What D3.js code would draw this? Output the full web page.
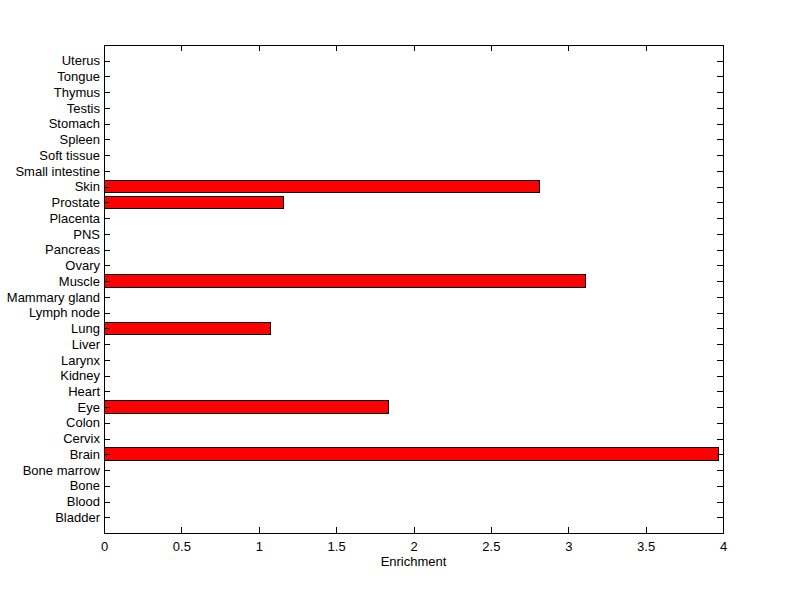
<!DOCTYPE html>
<html>
<head>
<meta charset="utf-8">
<script src="https://cdn.jsdelivr.net/npm/d3@7"></script>
<style>
	body { margin: 0; background: #fff; }
	text { font-family: "Liberation Sans", Arial, sans-serif; font-size: 13px; fill: #000; }
</style>
</head>
<body>
<div id="theChart"></div>
<script>
// tissues, bottom to top
const tissues = ["Bladder", "Blood", "Bone", "Bone marrow", "Brain", "Cervix", "Colon", "Eye", "Heart", "Kidney",
	"Larynx", "Liver", "Lung", "Lymph node", "Mammary gland", "Muscle", "Ovary", "Pancreas", "PNS", "Placenta",
	"Prostate", "Skin", "Small intestine", "Soft tissue", "Spleen", "Stomach", "Testis", "Thymus", "Tongue", "Uterus"]
const enrichment = [0, 0, 0, 0, 3.97, 0, 0, 1.84, 0, 0,
	0, 0, 1.077, 0, 0, 3.11, 0, 0, 0, 0,
	1.16, 2.817, 0, 0, 0, 0, 0, 0, 0, 0]
const xTicks = [0, 0.5, 1, 1.5, 2, 2.5, 3, 3.5, 4]

const w = 800
const h = 599
const mLeft = 104, mRight = 723, mTop = 45, mBottom = 533

const svg = d3.select("#theChart").append("svg")
	.attr("width", w)
	.attr("height", h)

const x = d3.scaleLinear().domain([0, 4]).range([mLeft, mRight])
const y = d3.scaleLinear().domain([0, tissues.length + 1]).range([mBottom, mTop])
const barH = y(0) - y(0.8)

// bars
svg.append("g").selectAll("rect")
	.data(tissues.map((t, i) => ({ t: t, v: enrichment[i], k: i + 1 })).filter(d => d.v > 0))
	.enter()
	.append("rect")
	.attr("x", x(0))
	.attr("y", d => y(d.k) - barH / 2)
	.attr("width", d => x(d.v) - x(0))
	.attr("height", barH)
	.attr("fill", "#ff0000")
	.attr("stroke", "#000")
	.attr("stroke-width", 1)
	.attr("shape-rendering", "crispEdges")

// axes, matlab style: ticks inside on all four sides
const tickLen = 6
const xAxisB = d3.axisBottom(x).tickValues(xTicks).tickSize(-tickLen).tickPadding(9).tickFormat(d3.format("~g"))
const xAxisT = d3.axisTop(x).tickValues(xTicks).tickSize(-tickLen).tickFormat("")
const yAxisL = d3.axisLeft(y).tickValues(d3.range(1, tissues.length + 1)).tickSize(-tickLen).tickPadding(4)
	.tickFormat(d => tissues[d - 1])
const yAxisR = d3.axisRight(y).tickValues(d3.range(1, tissues.length + 1)).tickSize(-tickLen).tickFormat("")

function style(g) {
	g.selectAll("line").attr("stroke", "#000").attr("stroke-width", 1).attr("shape-rendering", "crispEdges")
	g.selectAll("text").style("font-family", "'Liberation Sans', Arial, sans-serif").style("font-size", "13px").attr("fill", "#000")
	g.select(".domain").remove()
}

svg.append("g").attr("transform", `translate(0,${mBottom})`).call(xAxisB).call(style)
svg.append("g").attr("transform", `translate(0,${mTop})`).call(xAxisT).call(style)
svg.append("g").attr("transform", `translate(${mLeft},0)`).call(yAxisL).call(style)
svg.append("g").attr("transform", `translate(${mRight},0)`).call(yAxisR).call(style)

// box
svg.append("rect")
	.attr("x", mLeft)
	.attr("y", mTop)
	.attr("width", mRight - mLeft)
	.attr("height", mBottom - mTop)
	.attr("fill", "none")
	.attr("stroke", "#000")
	.attr("shape-rendering", "crispEdges")

svg.append("text")
	.attr("x", (mLeft + mRight) / 2)
	.attr("y", 566)
	.attr("text-anchor", "middle")
	.text("Enrichment")
</script>
</body>
</html>
